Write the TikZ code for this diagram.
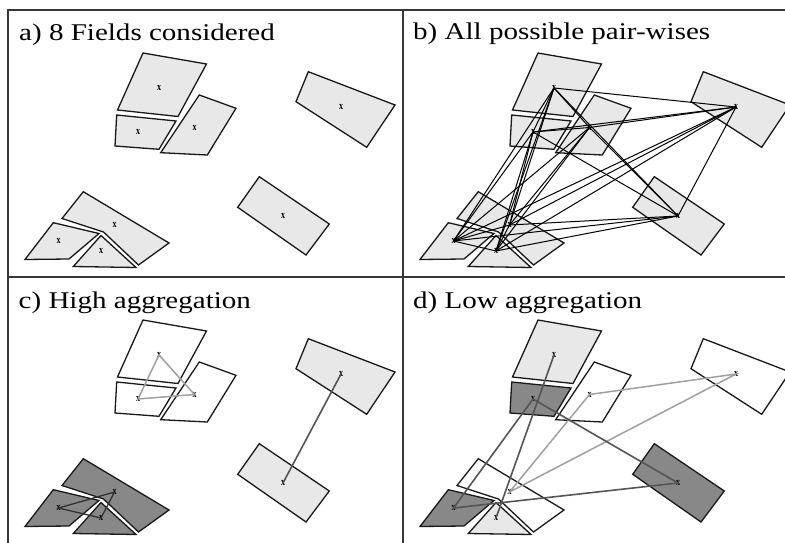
\documentclass[tikz,border=0pt]{standalone}
\usepackage{fontspec}
\setmainfont{Liberation Serif}
\usepackage{graphicx}
\definecolor{lightfill}{RGB}{232,232,232}
\definecolor{darkfill}{RGB}{136,136,136}
\definecolor{framecol}{RGB}{55,55,55}
\definecolor{lightline}{RGB}{160,160,160}
\definecolor{darkline}{RGB}{85,85,85}
\definecolor{clusterline}{RGB}{50,50,50}
\tikzset{
  field/.style={draw=black!90, line width=1.3pt, line join=miter},
  xmark/.style={inner sep=0pt, font=\fontsize{10}{10}\selectfont\bfseries},
  title/.style={anchor=base west, inner sep=0pt, font=\fontsize{24}{28}\selectfont},
  frameline/.style={draw=framecol, line width=1.8pt},
  allpair/.style={draw=black, line width=1pt},
  lightlink/.style={draw=lightline, line width=1.5pt},
  darklink/.style={draw=darkline, line width=1.6pt},
  clusterlink/.style={draw=clusterline, line width=1.3pt},
}
% #1 prefix, #2..#9 fills of T,S,R,RR,M,B,L,Tr
\newcommand\fieldset[9]{%
  \draw[field,fill=#2] (143,53) -- (206.5,64) -- (178,116.5) -- (117.5,110) -- cycle;
  \draw[field,fill=#3] (116.7,115) -- (176,121) -- (159,149.3) -- (115,146) -- cycle;
  \draw[field,fill=#4] (199.3,95) -- (236,108.3) -- (207.3,155) -- (160.7,152.7) -- cycle;
  \draw[field,fill=#5] (308.3,71.7) -- (395,105) -- (366.7,147.3) -- (296,101.7) -- cycle;
  \draw[field,fill=#6] (259.3,176.7) -- (329.3,224) -- (306,255) -- (237.7,207.3) -- cycle;
  \draw[field,fill=#7] (83.3,191.7) -- (169,243) -- (138.5,265) -- (103.5,232) -- (62,218.5) -- cycle;
  \draw[field,fill=#8] (53.3,222.7) -- (99,233.5) -- (69,259) -- (25,259.5) -- cycle;
  \draw[field,fill=#9] (101,235.5) -- (73.3,266.5) -- (136,267.5) -- cycle;
  \coordinate (#1T) at (159,88);
  \coordinate (#1S) at (138,132);
  \coordinate (#1R) at (194.5,127.5);
  \coordinate (#1RR) at (341,107);
  \coordinate (#1M) at (283,216);
  \coordinate (#1B) at (114.5,225);
  \coordinate (#1L) at (58.5,241);
  \coordinate (#1Tr) at (101,251);
  \foreach \k in {T,S,R,RR,M,B,L,Tr}{\node[xmark] (#1\k x) at (#1\k) {\scalebox{0.8}[1.1]{x}};}
}
\begin{document}
\begin{tikzpicture}[x=1pt,y=-1pt]
\useasboundingbox[fill=white] (0,0) rectangle (785,543);
% panel a
\begin{scope}
  \fieldset{a}{lightfill}{lightfill}{lightfill}{lightfill}{lightfill}{lightfill}{lightfill}{lightfill}
\end{scope}
% panel b
\begin{scope}[shift={(395,0)}]
  \fieldset{b}{lightfill}{lightfill}{lightfill}{lightfill}{lightfill}{lightfill}{lightfill}{lightfill}
\end{scope}
\foreach \p/\q in {T/S,T/R,T/RR,T/M,T/B,T/L,T/Tr,S/R,S/RR,S/M,S/B,S/L,S/Tr,R/RR,R/M,R/B,R/L,R/Tr,RR/M,RR/B,RR/L,RR/Tr,M/B,M/L,M/Tr,B/L,B/Tr,L/Tr}
  \draw[allpair] (b\p) -- (b\q);
% panel c
\begin{scope}[shift={(0,267)}]
  \fieldset{c}{white}{white}{white}{lightfill}{lightfill}{darkfill}{darkfill}{darkfill}
\end{scope}
\draw[lightlink] (cT) -- (cS) -- (cR) -- cycle;
\draw[darklink] (cRR) -- (cM);
\draw[clusterlink] (cL) -- (cB) -- (cTr) -- cycle;
% panel d
\begin{scope}[shift={(395,267)}]
  \fieldset{d}{lightfill}{darkfill}{white}{white}{darkfill}{white}{darkfill}{lightfill}
\end{scope}
\draw[lightlink] (dR) -- (dRR) -- (dB) -- cycle;
\draw[darklink] (dT) -- (dTr);
\draw[darklink] (dS) -- (dM) -- (dL) -- cycle;
% frame
\draw[frameline] (8,543) -- (8,10) -- (785,10);
\draw[frameline] (403,10) -- (403,543);
\draw[frameline] (8,277) -- (785,277);
% titles
\node[title] (ta) at (19,41) {\scalebox{1.21}[1]{a) 8 Fields considered}};
\node[title] (tb) at (413,40) {\scalebox{1.21}[1]{b) All possible pair-wises}};
\node[title] (tc) at (18.5,308.5) {\scalebox{1.21}[1]{c) High aggregation}};
\node[title] (td) at (413,308.5) {\scalebox{1.21}[1]{d) Low aggregation}};
\end{tikzpicture}
\end{document}
